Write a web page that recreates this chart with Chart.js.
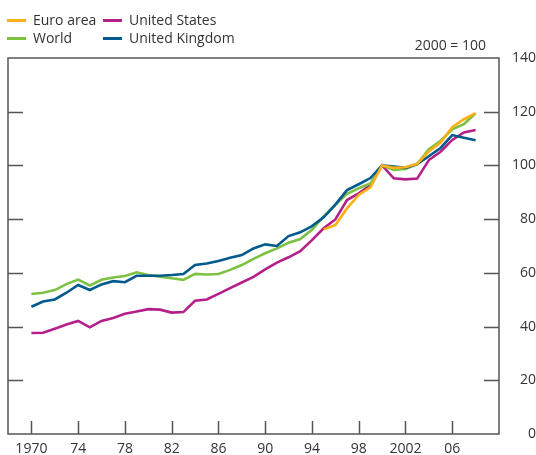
<!DOCTYPE html>
<html>
<head>
    <title>Index, 2000 = 100</title>
    <style>
        body { font-family: "Open Sans", sans-serif; margin: 0; padding: 0; color: #333; }
        #wrap { position: relative; width: 536px; height: 455px; }
        #chart { position: absolute; left: 0; top: 0; }
        .key { position: absolute; font-size: 14px; line-height: 18px; white-space: nowrap; }
        .key span { display: inline-block; width: 19px; height: 3px; vertical-align: middle; margin-right: 7px; position: relative; top: -1px; }
        #units { position: absolute; right: 50px; top: 36px; font-size: 14px; line-height: 18px; }
    </style>
    <script src="https://cdn.jsdelivr.net/npm/chart.js"></script>
</head>
<body>
<div id="wrap">
    <canvas id="chart" width="536" height="455"></canvas>
    <div id="legend"></div>
    <div id="units">2000 = 100</div>
</div>

<script>
    const years = [];
    for (let y = 1970; y <= 2008; y++) years.push(y);

    const world = [52.1, 52.6, 53.6, 55.8, 57.5, 55.3, 57.4, 58.3, 58.8, 60.2,
        59.2, 58.6, 58.0, 57.4, 59.6, 59.4, 59.6, 61.1, 62.9, 65.2,
        67.3, 69.1, 71.2, 72.6, 76.0, 81.0, 85.3, 89.4, 91.5, 93.3,
        100, 98.3, 98.7, 100.5, 106.0, 109.2, 113.4, 115.4, 119.4];

    const unitedKingdom = [47.4, 49.3, 50.1, 52.6, 55.5, 53.6, 55.7, 56.9, 56.5, 58.9,
        58.9, 58.9, 59.2, 59.6, 62.9, 63.5, 64.4, 65.6, 66.6, 69.1,
        70.6, 70.0, 73.7, 75.1, 77.4, 80.7, 85.4, 90.8, 93.0, 95.3,
        100, 99.6, 99.1, 100.5, 103.4, 106.5, 111.3, 110.3, 109.4];

    const unitedStates = [37.6, 37.7, 39.2, 40.8, 42.1, 39.7, 42.1, 43.2, 44.8, 45.6,
        46.5, 46.3, 45.2, 45.4, 49.6, 50.1, 52.2, 54.3, 56.4, 58.5,
        61.3, 63.8, 65.8, 68.1, 72.2, 76.6, 79.9, 87.1, 89.6, 92.7,
        100, 95.2, 94.8, 95.1, 102.0, 105.1, 109.5, 112.3, 113.2];

    // euro area series starts in 1995
    const euroArea = [null, null, null, null, null, null, null, null, null, null,
        null, null, null, null, null, null, null, null, null, null,
        null, null, null, null, null, 76.2, 77.8, 84.0, 89.0, 91.8,
        100, 99.1, 99.3, 100.6, 105.2, 108.5, 114.2, 117.2, 119.5];

    const xTicks = [1970, 1974, 1978, 1982, 1986, 1990, 1994, 1998, 2002, 2006];
    const xTickLabels = ['1970', '74', '78', '82', '86', '90', '94', '98', '2002', '06'];
    const yTicks = [0, 20, 40, 60, 80, 100, 120, 140];

    const series = [
        { name: 'Euro area', values: euroArea, color: '#fbb018', order: 0 },
        { name: 'United States', values: unitedStates, color: '#b41f8a', order: 3 },
        { name: 'World', values: world, color: '#7dc142', order: 2 },
        { name: 'United Kingdom', values: unitedKingdom, color: '#005a8d', order: 1 }
    ];

    // legend, two columns
    const legendPos = [[7, 11], [103, 11], [7, 29], [103, 29]];
    const legend = document.getElementById('legend');
    series.forEach((s, i) => {
        const d = document.createElement('div');
        d.className = 'key';
        d.style.left = legendPos[i][0] + 'px';
        d.style.top = legendPos[i][1] + 'px';
        d.innerHTML = '<span style="background:' + s.color + '"></span>' + s.name;
        legend.appendChild(d);
    });

    // plot frame and inward tick marks
    const framePlugin = {
        id: 'frame',
        afterDatasetsDraw(chart) {
            const ctx = chart.ctx;
            const a = chart.chartArea;
            const xs = chart.scales.x, ys = chart.scales.y;
            ctx.save();
            ctx.strokeStyle = '#555';
            ctx.lineWidth = 1.5;
            ctx.strokeRect(a.left, a.top, a.right - a.left, a.bottom - a.top);
            ctx.beginPath();
            yTicks.forEach(v => {
                if (v === 0 || v === 140) return;
                const py = Math.round(ys.getPixelForValue(v)) + 0.5;
                ctx.moveTo(a.left, py); ctx.lineTo(a.left + 15, py);
                ctx.moveTo(a.right, py); ctx.lineTo(a.right - 15, py);
            });
            xTicks.forEach(v => {
                const px = Math.round(xs.getPixelForValue(v)) + 0.5;
                ctx.moveTo(px, a.bottom); ctx.lineTo(px, a.bottom - 13);
            });
            ctx.stroke();
            ctx.restore();
        }
    };

    new Chart(document.getElementById('chart'), {
        type: 'line',
        data: {
            datasets: series.map(s => ({
                label: s.name,
                data: years.map((y, i) => ({ x: y, y: s.values[i] })),
                borderColor: s.color,
                borderWidth: 2.6,
                pointRadius: 0,
                tension: 0,
                fill: false,
                order: s.order
            }))
        },
        options: {
            responsive: false,
            animation: false,
            layout: { padding: { left: 8, top: 58, right: 0, bottom: 0 } },
            plugins: { legend: { display: false }, tooltip: { enabled: false } },
            scales: {
                x: {
                    type: 'linear',
                    min: 1968,
                    max: 2010,
                    afterBuildTicks: scale => { scale.ticks = xTicks.map(v => ({ value: v })); },
                    afterFit: scale => { scale.height = 21; },
                    grid: { display: false },
                    border: { display: false },
                    ticks: {
                        padding: -1,
                        color: '#333',
                        font: { family: 'Open Sans', size: 14 },
                        maxRotation: 0,
                        autoSkip: false,
                        callback: v => xTickLabels[xTicks.indexOf(v)]
                    }
                },
                y: {
                    position: 'right',
                    min: 0,
                    max: 140,
                    afterBuildTicks: scale => { scale.ticks = yTicks.map(v => ({ value: v })); },
                    afterFit: scale => { scale.width = 37; },
                    grid: { display: false },
                    border: { display: false },
                    ticks: {
                        padding: 8,
                        crossAlign: 'far',
                        color: '#333',
                        font: { family: 'Open Sans', size: 14 }
                    }
                }
            }
        },
        plugins: [framePlugin]
    });
</script>
</body>
</html>
